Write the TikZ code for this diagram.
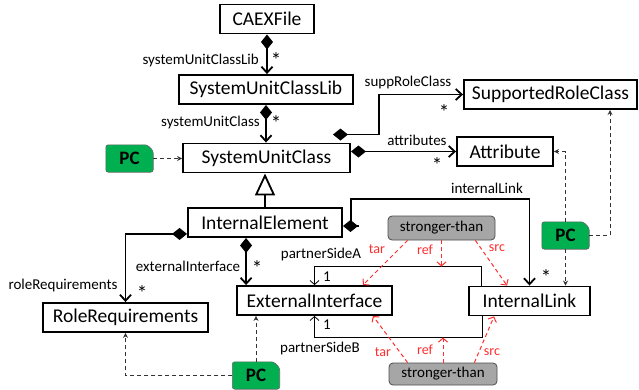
\documentclass[tikz,border=0pt]{standalone}
\usepackage{fontspec}
\setmainfont{Carlito}
\usepackage{tikz}
\usetikzlibrary{arrows.meta,calc,backgrounds}
\definecolor{pcgreen}{RGB}{0,176,80}
\definecolor{stgray}{RGB}{166,166,166}
\definecolor{refred}{RGB}{255,45,45}

\begin{document}
\begin{tikzpicture}[x=1pt, y=-1pt,
	cls/.style={draw, line width=1.9pt, inner sep=0pt, minimum height=29, font=\fontsize{19.5}{20}\selectfont},
	lbl/.style={inner sep=0pt, font=\fontsize{15}{15}\selectfont},
	rlbl/.style={inner sep=0pt, text=refred, font=\fontsize{14}{14}\selectfont},
	comp/.style={line width=1.8pt, {Diamond[length=15pt,width=12pt]}-{Straight Barb[length=6pt,width=11pt]}},
	gen/.style={line width=1.8pt, -{Triangle[open,fill=white,length=22pt,width=20pt]}},
	part/.style={line width=0.8pt, -{Straight Barb[length=4pt,width=9pt]}},
	refarr/.style={draw=refred, line width=1pt, dash pattern=on 4pt off 3pt, -{Straight Barb[length=4pt,width=9pt]}},
	pcarr/.style={draw=black!80, line width=0.9pt, dash pattern=on 4pt off 3pt, -{Stealth[length=5pt,width=5pt]}}]
					\useasboundingbox (0,0) rectangle (639,389);
					% Draw the classes
					\foreach \pos/\name/\boxw/\txt in {{(267,19)/caex/94/CAEXFile}, {(266,89.5)/suclib/174/SystemUnitClassLib},
								{(266.5,158)/suc/167/SystemUnitClass}, {(550.5,94.5)/srcls/173/SupportedRoleClass},
								{(505,151.5)/attr/96/Attribute}, {(265,222.5)/ie/154/InternalElement},
								{(314.5,300.5)/ei/155/ExternalInterface}, {(529.5,301)/il/121/InternalLink},
								{(125.5,317.5)/rr/165/RoleRequirements}}
						\node[cls,minimum width=\boxw] (\name) at \pos {\txt};
					% the stronger-than boxes and the PC tags
					\node[draw=black!70,fill=stgray,line width=0.8pt,rounded corners=4pt,inner sep=0pt,minimum width=107,minimum height=24,font=\fontsize{15}{15}\selectfont] (st1) at (441.5,228) {stronger-than};
					\node[draw=black!70,fill=stgray,line width=0.8pt,rounded corners=4pt,inner sep=0pt,minimum width=108,minimum height=22,font=\fontsize{15}{15}\selectfont] (st2) at (443,374) {stronger-than};
					\foreach \pos/\name in {{(129.5,158.5)/pc1}, {(565.5,235.5)/pc2}, {(256,375.5)/pc3}}
						\node[inner sep=0pt,minimum width=47,minimum height=27,font=\fontsize{19}{19}\bfseries] (\name) at \pos {PC};
					\begin{pgfonlayer}{background}
					\foreach \p in {pc1,pc2,pc3}
						\filldraw[fill=pcgreen,draw=black!60,line width=0.6pt,rounded corners=2.5pt] (\p.south west) -- (\p.north west) -- ($(\p.north east)+(-6,0)$) -- ($(\p.north east)+(0,6)$) -- (\p.south east) -- cycle;
					\end{pgfonlayer}
					% Then the compositions
					\draw[comp] (caex.south) -- (caex.south |- suclib.north);
					\draw[comp] (suclib.south) -- (suclib.south |- suc.north);
					\draw[comp] ($(suc.north east)+(-18,-8)$) -- ++(46,0) |- (srcls.west);
					\draw[comp] (suc.east |- attr.west) -- (attr.west);
					\draw[comp] ($(ie.south west)+(0,-4)$) -| (rr.north);
					\draw[comp] ($(ie.south west)+(59,0)$) -- ($(ei.north west)+(10,0)$);
					\draw[line width=1.8pt,{Diamond[length=15pt,width=12pt]}-] ($(ie.east)+(0,3.5)$) -- ++(16,0);
					\draw[line width=1.8pt,-{Straight Barb[length=6pt,width=11pt]}] ($(ie.east)+(8,3.5)$) -- ($(ie.east)+(8,-23.5)$) -| (il.north);
					\draw[gen] (ie.north) -- (ie.north |- suc.south);
					% partner sides
					\draw[part] ($(il.north west)+(13,0)$) -- ++(0,-19) coordinate (pa) -| (ei.north);
					\draw[part] ($(il.south west)+(14,0)$) -- ++(0,21) coordinate (pb) -| (ei.south);
					% stronger-than references
					\draw[refarr] ($(st1.south west)+(20,0)$) -- ($(ei.north east)+(-30,0)$);
					\draw[refarr] (st1.south) -- (st1.south |- pa);
					\draw[refarr] ($(st1.south east)+(-20,0)$) -- ($(il.north west)+(39,0)$);
					\draw[refarr] ($(st2.north west)+(19,0)$) -- ($(ei.south east)+(-20,0)$);
					\draw[refarr] (st2.north) -- (st2.north |- pb);
					\draw[refarr] ($(st2.north east)+(-23,0)$) -- ($(il.south west)+(26,0)$);
					% PC links
					\draw[pcarr] (pc1.east) -- (suc.west |- pc1.east);
					\draw[pcarr] (pc2.north) |- (attr.east);
					\draw[pcarr] (pc2.east) -| ($(srcls.south west)+(147,0)$);
					\draw[pcarr] (pc2.south) -- (pc2.south |- il.north);
					\draw[pcarr] (pc3.north) -- (pc3.north |- ei.south);
					\draw[pcarr] (pc3.west) -| (rr.south);
					% Labels
					\node[lbl,anchor=east] (l1) at (259,60) {systemUnitClassLib};
					\node[lbl,anchor=east] (l2) at (260,122) {systemUnitClass};
					\node[lbl] (l3) at (408,82) {suppRoleClass};
					\node[lbl] (l4) at (417,140) {attributes};
					\node[lbl] (l5) at (487,188) {internalLink};
					\node[lbl] (l6) at (63,285) {roleRequirements};
					\node[lbl] (l7) at (188,266) {externalInterface};
					\node[lbl] (l8) at (321,254) {partnerSideA};
					\node[lbl] (l9) at (320,348) {partnerSideB};
					\foreach \pos/\name in {{(276,60)/m1}, {(276,123)/m2}, {(444,112)/m3}, {(437,165)/m4},
								{(546,277)/m5}, {(142,293)/m6}, {(257,268)/m7}}
						\node[lbl,font=\fontsize{21}{21}\selectfont] (\name) at \pos {*};
					\node[lbl] (o1) at (327,277) {1};
					\node[lbl] (o2) at (327,325) {1};
					\foreach \pos/\name/\txt in {{(377,249)/r1/tar}, {(425,250)/r2/ref}, {(497,248)/r3/src},
								{(383,352)/r4/tar}, {(425,350)/r5/ref}, {(492,352)/r6/src}}
						\node[rlbl] (\name) at \pos {\txt};
				\end{tikzpicture}
\end{document}
